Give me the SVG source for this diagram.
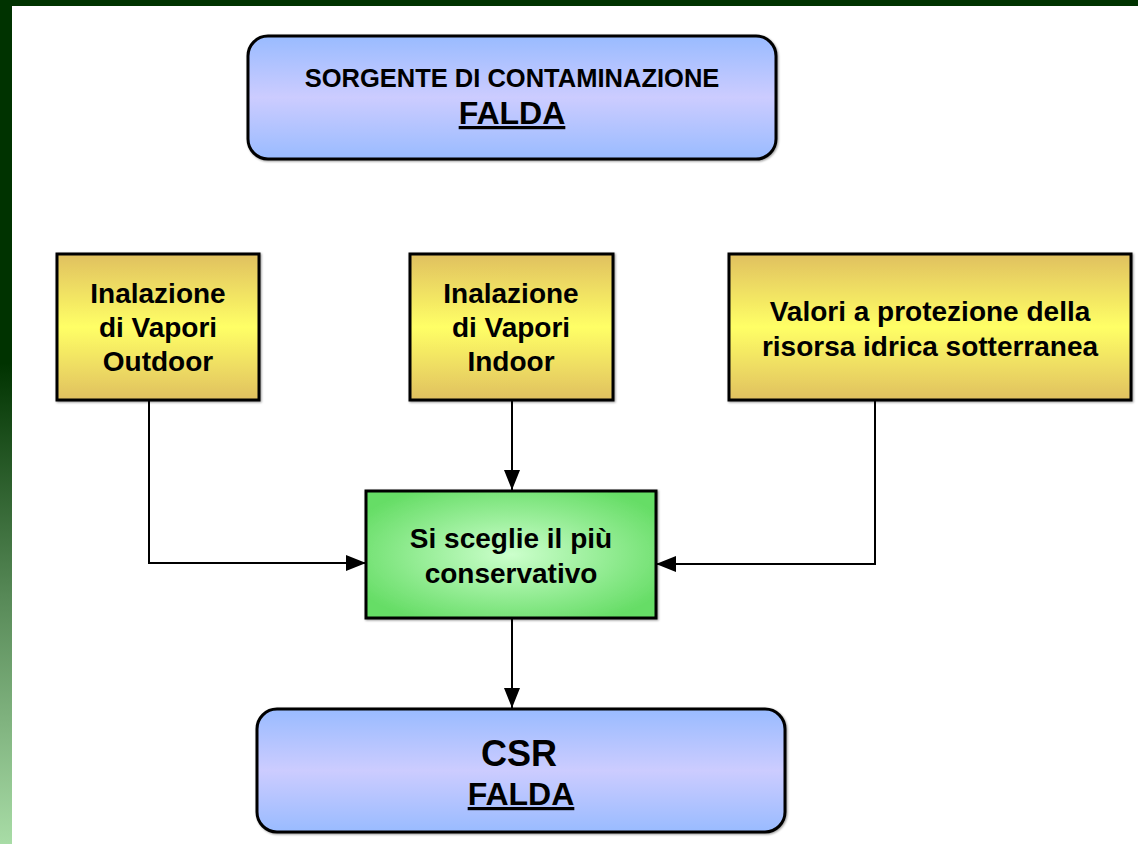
<svg xmlns="http://www.w3.org/2000/svg" width="1138" height="844" viewBox="0 0 1138 844">
<style>
text{font-family:"Liberation Sans",Arial,sans-serif;font-weight:bold;fill:#000;text-anchor:middle}
.box{stroke:#000;stroke-width:3}
.conn{stroke:#000;stroke-width:2;fill:none}
.y{font-size:28px}
</style>
<defs>
<linearGradient id="strip" x1="0" y1="0" x2="0" y2="1">
<stop offset="0" stop-color="#003300"/>
<stop offset="0.43" stop-color="#003300"/>
<stop offset="0.71" stop-color="#588a58"/>
<stop offset="1" stop-color="#a8dca6"/>
</linearGradient>
<linearGradient id="blue" x1="0" y1="0" x2="0" y2="1">
<stop offset="0" stop-color="#99bbff"/>
<stop offset="0.5" stop-color="#ccccff"/>
<stop offset="1" stop-color="#99bbff"/>
</linearGradient>
<linearGradient id="yel" x1="0" y1="0" x2="0" y2="1">
<stop offset="0" stop-color="#e0c060"/>
<stop offset="0.5" stop-color="#ffff66"/>
<stop offset="1" stop-color="#e0c060"/>
</linearGradient>
<radialGradient id="grn" cx="0.5" cy="0.5" r="0.6">
<stop offset="0" stop-color="#ccffcc"/>
<stop offset="1" stop-color="#66dd66"/>
</radialGradient>
<filter id="sh" x="-5%" y="-5%" width="110%" height="115%">
<feDropShadow dx="1" dy="1" stdDeviation="1.2" flood-color="#000" flood-opacity="0.4"/>
</filter>
<marker id="arr" viewBox="0 0 20 16" refX="20" refY="8" markerWidth="20" markerHeight="16" markerUnits="userSpaceOnUse" orient="auto">
<path d="M0,0 L20,8 L0,16 Z" fill="#000"/>
</marker>
</defs>
<rect x="0" y="0" width="1138" height="844" fill="#fff"/>
<rect x="0" y="0" width="12" height="844" fill="url(#strip)"/>
<rect x="0" y="0" width="1138" height="6" fill="#003300"/>

<g id="connectors">
<path class="conn" d="M149,400 V563 H366" marker-end="url(#arr)"/>
<path class="conn" d="M512,400 V490" marker-end="url(#arr)"/>
<path class="conn" d="M875,400 V564 H656" marker-end="url(#arr)"/>
<path class="conn" d="M512,618 V708" marker-end="url(#arr)"/>
</g>

<g id="sorgente">
<rect class="box" x="248" y="36" width="528" height="123" rx="20" fill="url(#blue)" filter="url(#sh)"/>
<text x="512" y="87" style="font-size:25.5px">SORGENTE DI CONTAMINAZIONE</text>
<text x="512" y="124" style="font-size:32px;text-decoration:underline">FALDA</text>
</g>

<g id="outdoor">
<rect class="box" x="57" y="254" width="202" height="146" fill="url(#yel)" filter="url(#sh)"/>
<text class="y" x="158" y="303">Inalazione</text>
<text class="y" x="158" y="337">di Vapori</text>
<text class="y" x="158" y="371">Outdoor</text>
</g>

<g id="indoor">
<rect class="box" x="410" y="254" width="203" height="146" fill="url(#yel)" filter="url(#sh)"/>
<text class="y" x="511" y="303">Inalazione</text>
<text class="y" x="511" y="337">di Vapori</text>
<text class="y" x="511" y="371">Indoor</text>
</g>

<g id="valori">
<rect class="box" x="729" y="254" width="402" height="146" fill="url(#yel)" filter="url(#sh)"/>
<text class="y" x="930" y="321">Valori a protezione della</text>
<text class="y" x="930" y="356">risorsa idrica sotterranea</text>
</g>

<g id="conservativo">
<rect class="box" x="366" y="491" width="290" height="127" fill="url(#grn)" filter="url(#sh)"/>
<text class="y" x="511" y="548">Si sceglie il più</text>
<text class="y" x="511" y="583">conservativo</text>
</g>

<g id="csr">
<rect class="box" x="257" y="709" width="528" height="123" rx="20" fill="url(#blue)" filter="url(#sh)"/>
<text x="519" y="766" style="font-size:36px">CSR</text>
<text x="521" y="805" style="font-size:32px;text-decoration:underline">FALDA</text>
</g>
</svg>
